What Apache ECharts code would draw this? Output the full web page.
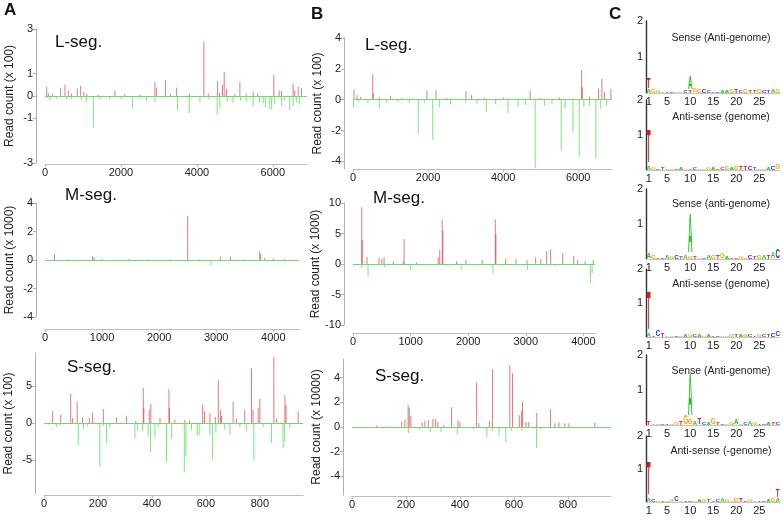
<!DOCTYPE html>
<html><head><meta charset="utf-8">
<script src="https://cdn.jsdelivr.net/npm/echarts@6/dist/echarts.min.js"></script>
<style>html,body{margin:0;padding:0;background:#fff}#c{width:783px;height:521px}</style>
</head><body><div id="c"></div>
<script>
// ---------- DATA ----------
// Panel A  L-segment (read count x 100)
const aL_sense = [[44,0.43],[88,0.12],[200,0.08],[412,0.37],[526,0.52],[614,0.25],[700,0.1],[851,0.33],[939,0.46],[1026,0.18],[1100,0.1],[1400,0.06],[1842,0.25],[2100,0.08],[2500,0.06],[2895,0.63],[2939,0.37],[3175,0.7],[3300,0.1],[3465,0.37],[3800,0.1],[4184,2.42],[4300,0.1],[4544,0.66],[4600,0.15],[4675,0.52],[4719,1.07],[4781,0.33],[5000,0.1],[5132,0.63],[5300,0.1],[5482,0.18],[5600,0.12],[6026,0.93],[6167,0.25],[6228,0.22],[6535,0.55],[6579,0.25],[6667,0.43],[6755,0.35]];
const aL_anti = [[60,-0.1],[132,-0.2],[300,-0.12],[570,-0.15],[700,-0.15],[960,-0.15],[1090,-0.27],[1272,-1.42],[1450,-0.15],[1700,-0.12],[2000,-0.15],[2307,-0.57],[2500,-0.12],[2675,-0.2],[2895,-0.27],[3100,-0.1],[3491,-0.64],[3798,-0.76],[4080,-0.27],[4300,-0.15],[4535,-0.84],[4605,-0.5],[4800,-0.25],[4950,-0.3],[5150,-0.2],[5300,-0.25],[5482,-0.46],[5650,-0.3],[5746,-0.34],[5800,-0.5],[5921,-0.57],[5970,-0.6],[6050,-0.35],[6228,-0.42],[6300,-0.2],[6447,-0.64],[6535,-0.46],[6630,-0.3],[6700,-0.38]];
// Panel A  M-segment (x 1000)
const aM_sense = [[167,0.42],[400,0.05],[833,0.26],[861,0.19],[1000,0.07],[1472,0.07],[1800,0.04],[2200,0.05],[2500,3.1],[2700,0.05],[3072,0.23],[3250,0.23],[3500,0.06],[3761,0.58],[3780,0.42],[3850,0.14],[4000,0.1],[4200,0.08]];
const aM_anti = [[300,-0.06],[900,-0.08],[1500,-0.05],[2200,-0.06],[2905,-0.4],[3300,-0.08],[3900,-0.1],[4300,-0.06]];
// Panel A  S-segment (x 100)
const aS_sense = [[32,1.6],[62,1.1],[99,4.0],[106,0.7],[123,2.9],[143,0.8],[168,0.7],[180,1.45],[220,1.9],[269,0.8],[306,1.0],[340,0.3],[368,4.8],[370,2.0],[390,1.8],[396,2.6],[430,0.7],[463,4.6],[465,2.0],[485,0.5],[522,0.45],[540,0.4],[588,2.5],[595,1.6],[615,1.35],[636,0.8],[646,5.8],[654,1.8],[658,1.0],[701,2.9],[713,0.6],[744,1.8],[769,7.4],[775,1.8],[794,2.05],[800,3.3],[852,9.0],[862,0.6],[893,3.8],[897,2.5],[942,1.6]];
const aS_anti = [[16,-0.2],[47,-0.5],[59,-0.35],[127,-2.95],[146,-0.8],[160,-0.5],[207,-5.9],[220,-0.4],[232,-2.7],[244,-0.7],[337,-2.05],[346,-1.0],[365,-1.1],[386,-1.7],[395,-3.9],[411,-1.95],[423,-0.7],[454,-5.2],[473,-2.1],[520,-6.7],[526,-4.45],[547,-0.9],[568,-1.8],[575,-1.6],[615,-1.6],[625,-4.9],[637,-1.3],[670,-0.9],[689,-1.6],[726,-0.55],[750,-1.1],[778,-5.1],[812,-0.55],[843,-2.7],[886,-3.4],[892,-2.5],[911,-0.7]];
// Panel B  L-segment (x 100)
const bL_sense = [[27,0.65],[107,0.3],[200,0.15],[525,1.65],[540,0.4],[700,0.15],[1000,0.25],[1300,0.1],[1970,0.6],[2210,0.63],[2500,0.1],[3010,0.55],[3160,0.3],[3500,0.1],[4000,0.15],[4720,0.58],[5000,0.1],[5500,0.12],[6090,1.9],[6110,0.8],[6300,0.2],[6540,0.7],[6630,1.35],[6700,0.5],[6870,0.7]];
const bL_anti = [[10,-0.5],[150,-0.15],[400,-0.2],[700,-0.57],[900,-0.2],[1200,-0.15],[1500,-0.2],[1740,-2.2],[1900,-0.2],[2124,-2.6],[2300,-0.5],[2600,-0.3],[3000,-0.2],[3300,-0.25],[3550,-0.8],[3800,-0.3],[4130,-0.9],[4400,-0.5],[4600,-0.35],[4853,-4.45],[5100,-0.4],[5300,-0.3],[5547,-3.3],[5650,-0.6],[5858,-2.1],[6027,-3.7],[6150,-0.5],[6300,-0.4],[6471,-3.8],[6600,-0.6],[6750,-0.4]];
// Panel B  M-segment (x 1000)
const bM_sense = [[151,9.3],[160,3.9],[243,1.15],[452,0.95],[500,0.8],[539,1.1],[700,0.4],[870,0.4],[887,4.1],[1100,0.3],[1478,1.1],[1505,2.3],[1548,7.3],[1560,5.5],[1800,0.45],[1960,0.65],[2241,0.7],[2470,7.3],[2480,4.9],[2650,0.8],[2830,0.8],[3020,0.6],[3170,1.1],[3260,0.8],[3360,2.1],[3430,2.4],[3640,1.8],[3830,1.3],[3900,0.7],[4030,0.5],[4170,0.6]];
const bM_anti = [[151,-0.6],[261,-2.1],[550,-0.5],[1000,-0.9],[1200,-0.3],[1650,-0.4],[1878,-0.9],[2430,-1.6],[2600,-0.3],[3030,-1.0],[3500,-0.3],[4120,-3.1],[4150,-1.5]];
// Panel B  S-segment (x 10000)
const bS_sense = [[91,0.1],[130,0.05],[184,0.45],[196,0.6],[208,1.8],[212,1.55],[218,0.9],[260,0.35],[270,0.5],[283,0.55],[300,0.65],[310,0.65],[318,0.4],[340,0.15],[369,1.6],[393,0.55],[400,0.4],[462,3.6],[470,0.3],[510,0.5],[521,4.7],[585,5.0],[595,4.35],[620,0.95],[628,1.3],[632,2.05],[645,0.4],[655,0.4],[685,1.15],[736,1.45],[752,0.3],[767,0.4],[789,0.3],[804,0.3],[900,0.35]];
const bS_anti = [[150,-0.1],[210,-0.5],[250,-0.2],[290,-0.4],[330,-0.4],[390,-0.6],[450,-0.2],[500,-0.85],[520,-0.3],[545,-0.7],[570,-1.2],[590,-0.3],[630,-0.3],[684,-1.65],[700,-0.2]];

// tick labels
const aL_xTicks = [0,2000,4000,6000], aL_yTicks = [-3,-1,0,1,3];
const aM_xTicks = [0,1000,2000,3000,4000], aM_yTicks = [-4,-2,0,2,4];
const aS_xTicks = [0,200,400,600,800], aS_yTicks = [-5,0,5];
const bL_xTicks = [0,2000,4000,6000], bL_yTicks = [-4,-2,0,2,4];
const bM_xTicks = [0,1000,2000,3000,4000], bM_yTicks = [-10,-5,0,5,10];
const bS_xTicks = [0,200,400,600,800], bS_yTicks = [-4,-2,0,2,4];
const logo_xTicks = [1,5,10,15,20,25], logo_yTicks = [1,2];

// Panel C sequence logos (bits). Base letters per position + peak letters stacked on top.
const logoTitles = ['Sense (Anti-genome)','Anti-sense (genome)','Sense (anti-genome)','Anti-sense (genome)','Sense (Anti-genome)','Anti-sense (-genome)'];
const logo1Seq = "AGGATCAGCTGGCCTCAAGTCGTTGCTAG";
const logo1H = [0.1,0.1,0.08,0.05,0.05,0.05,0.04,0.05,0.06,0.08,0.12,0.1,0.1,0.08,0.05,0.04,0.06,0.08,0.1,0.1,0.08,0.1,0.08,0.08,0.1,0.08,0.06,0.1,0.1];
const logo1Peaks = [[1,'T',0.3],[10,'A',0.36]];
const logo2Seq = "AGCTAGCAGTCAGGATCGAGTTCTAGACG";
const logo2H = [0.12,0.06,0.05,0.06,0.05,0.05,0.04,0.06,0.05,0.05,0.06,0.05,0.04,0.08,0.06,0.05,0.08,0.1,0.08,0.1,0.12,0.1,0.1,0.08,0.05,0.04,0.06,0.1,0.14];
const logo2Peaks = [[1,'T',0.95]];
const logo3Seq = "AGTCAGCTAGTGCAGTGATCGACTGATAC";
const logo3H = [0.15,0.1,0.04,0.05,0.1,0.08,0.1,0.08,0.1,0.06,0.08,0.05,0.04,0.1,0.12,0.1,0.15,0.06,0.05,0.04,0.06,0.05,0.1,0.08,0.1,0.12,0.12,0.18,0.25];
const logo3Peaks = [[10,'A',1.15]];
const logo4Seq = "ATCTGACGAGCAGATCAAGTAGCTGCTCC";
const logo4H = [0.1,0.05,0.2,0.1,0.05,0.04,0.04,0.05,0.06,0.08,0.08,0.06,0.04,0.08,0.05,0.05,0.04,0.05,0.06,0.08,0.08,0.06,0.06,0.05,0.06,0.06,0.08,0.12,0.15];
const logo4Peaks = [[1,'T',1.15]];
const logo5Seq = "TGACTAGTGGATCAGTCAGAGCAGTCATC";
const logo5H = [0.1,0.05,0.04,0.05,0.04,0.05,0.06,0.1,0.25,0.15,0.12,0.2,0.08,0.06,0.2,0.08,0.05,0.04,0.06,0.15,0.05,0.06,0.12,0.06,0.05,0.04,0.06,0.08,0.06];
const logo5Peaks = [[10,'A',1.2]];
const logo6Seq = "ACGTAGCATCGAGTTCAGAGTCGATCAGA";
const logo6H = [0.12,0.06,0.05,0.04,0.05,0.06,0.15,0.04,0.05,0.05,0.05,0.06,0.08,0.06,0.05,0.06,0.1,0.08,0.05,0.12,0.1,0.05,0.06,0.04,0.05,0.05,0.06,0.1,0.12];
const logo6Peaks = [[1,'T',1.0],[29,'T',0.22]];

// ---------- LAYOUT / STYLE ----------
const FONT = '"Liberation Sans", Arial, Helvetica, sans-serif';
const RED = 'rgba(205,35,35,0.6)';
const GREEN = 'rgba(40,215,40,0.62)';
const LETTER_COL = {A:'#21c421', C:'#2a2ad0', G:'#f2a800', T:'#d81c1c'};
const plain = v => String(v);

const grids = [], xAxes = [], yAxes = [], series = [], graphics = [];

function barPanel(box, xMax, xTicks, xOff, yMin, yMax, yTicks, yName, sense, anti) {
  const i = grids.length;
  grids.push({left: box[0], top: box[1], width: box[2], height: box[3]});
  xAxes.push({gridIndex: i, type: 'value', min: 0, max: xMax, position: 'bottom', offset: xOff,
    axisLine: {show: true, onZero: false, lineStyle: {color: '#bdbdbd', width: 1}},
    axisTick: {show: true, length: 3, customValues: xTicks, lineStyle: {color: '#bdbdbd'}},
    axisLabel: {customValues: xTicks, formatter: plain, margin: 3, fontSize: 11, fontFamily: FONT, color: '#222'},
    splitLine: {show: false}});
  yAxes.push({gridIndex: i, type: 'value', min: yMin, max: yMax, position: 'left', offset: 9,
    name: yName, nameLocation: 'middle', nameGap: 20, nameRotate: 90,
    nameTextStyle: {fontSize: 12, fontFamily: FONT, color: '#222'},
    axisLine: {show: true, onZero: false, lineStyle: {color: '#b0b0b0', width: 1}},
    axisTick: {show: true, length: 3, customValues: yTicks, lineStyle: {color: '#b0b0b0'}},
    axisLabel: {customValues: yTicks, formatter: plain, margin: 3, fontSize: 11, fontFamily: FONT, color: '#222'},
    splitLine: {show: false}});
  series.push({type: 'bar', xAxisIndex: i, yAxisIndex: i, data: anti, barWidth: 1, barGap: '-100%',
    itemStyle: {color: GREEN}, silent: true,
    markLine: {silent: true, symbol: ['none','none'], label: {show: false},
      lineStyle: {color: '#6fd86f', type: 'solid', width: 1}, data: [{yAxis: 0}]}});
  series.push({type: 'bar', xAxisIndex: i, yAxisIndex: i, data: sense, barWidth: 1, barGap: '-100%',
    itemStyle: {color: RED}, silent: true});
}

barPanel([45, 29, 262, 134], 6900, aL_xTicks, 1, -3, 3, aL_yTicks, 'Read count (x 100)', aL_sense, aL_anti);
barPanel([45, 203, 254, 114], 4450, aM_xTicks, 12, -4, 4, aM_yTicks, 'Read count (x 1000)', aM_sense, aM_anti);
barPanel([44, 353, 259, 141], 960, aS_xTicks, 1, -9.6, 9.5, aS_yTicks, 'Read count (x 100)', aS_sense, aS_anti);
barPanel([353, 38, 259, 131], 6900, bL_xTicks, 0, -4.5, 4, bL_yTicks, 'Read count (x 100)', bL_sense, bL_anti);
barPanel([353, 203, 242, 122], 4200, bM_xTicks, 8, -10, 10, bM_yTicks, 'Read count (x 1000)', bM_sense, bM_anti);
barPanel([352, 359, 259, 136], 960, bS_xTicks, 1, -5.5, 5.5, bS_yTicks, 'Read count (x 10000)', bS_sense, bS_anti);

// sequence logos
const logoSeqs = [logo1Seq, logo2Seq, logo3Seq, logo4Seq, logo5Seq, logo6Seq];
const logoHs = [logo1H, logo2H, logo3H, logo4H, logo5H, logo6H];
const logoPeaks = [logo1Peaks, logo2Peaks, logo3Peaks, logo4Peaks, logo5Peaks, logo6Peaks];
const logoTops = [21, 100, 189, 269, 355, 436];
const logoHeights = [72, 70, 70, 68, 70, 66];

function logoPanel(k) {
  const i = grids.length;
  grids.push({left: 646, top: logoTops[k], width: 134, height: logoHeights[k]});
  xAxes.push({gridIndex: i, type: 'value', min: 0.4, max: 29.5, position: 'bottom',
    axisLine: {show: true, onZero: false, lineStyle: {color: '#c4c4c4', width: 1}},
    axisTick: {show: false},
    axisLabel: {customValues: logo_xTicks, formatter: plain, margin: 3, fontSize: 11, fontFamily: FONT, color: '#222'},
    splitLine: {show: false}});
  yAxes.push({gridIndex: i, type: 'value', min: 0, max: 2, position: 'left',
    axisLine: {show: true, onZero: false, lineStyle: {color: '#333', width: 1.4}},
    axisTick: {show: false},
    axisLabel: {customValues: logo_yTicks, formatter: plain, margin: 3, fontSize: 11, fontFamily: FONT, color: '#222'},
    splitLine: {show: false}});
  // build stacked letter boxes from the data
  const items = [];
  const top = {};
  const seq = logoSeqs[k], hs = logoHs[k];
  for (let p = 1; p <= seq.length; p++) {
    items.push({pos: p, L: seq[p - 1], y0: 0, y1: hs[p - 1]});
    top[p] = hs[p - 1];
  }
  logoPeaks[k].forEach(([p, L, h]) => {
    items.push({pos: p, L: L, y0: top[p], y1: top[p] + h});
    top[p] += h;
  });
  const F = 20;
  series.push({type: 'custom', xAxisIndex: i, yAxisIndex: i, silent: true,
    data: items.map(d => [d.pos, d.y0, d.y1]),
    renderItem: function (params, api) {
      const d = items[params.dataIndex];
      const pA = api.coord([d.pos - 0.46, d.y1]);
      const pB = api.coord([d.pos + 0.46, d.y0]);
      const w = pB[0] - pA[0], h = pB[1] - pA[1];
      if (h < 0.4) return null;
      return {type: 'text', x: (pA[0] + pB[0]) / 2, y: (pA[1] + pB[1]) / 2,
        scaleX: w / (0.68 * F), scaleY: h / (0.72 * F),
        style: {text: d.L, fill: LETTER_COL[d.L], fontSize: F, fontWeight: 'bold', fontFamily: FONT,
          align: 'center', verticalAlign: 'middle'}};
    }});
  graphics.push({type: 'text', x: 721, y: [38, 117, 204, 284, 371, 451][k],
    style: {text: logoTitles[k], fontSize: 10.5, fontFamily: FONT, fill: '#222', align: 'center', verticalAlign: 'middle'}});
}
for (let k = 0; k < 6; k++) logoPanel(k);

// panel letters and segment titles
[['A', 4, 10], ['B', 311, 14], ['C', 609, 14]].forEach(([t, x, y]) =>
  graphics.push({type: 'text', x: x, y: y, style: {text: t, fontSize: 17, fontWeight: 'bold', fontFamily: FONT, fill: '#111', verticalAlign: 'middle'}}));
[['L-seg.', 55, 42], ['M-seg.', 65, 195], ['S-seg.', 67, 367], ['L-seg.', 365, 45], ['M-seg.', 373, 198], ['S-seg.', 375, 376]].forEach(([t, x, y]) =>
  graphics.push({type: 'text', x: x, y: y, style: {text: t, fontSize: 17, fontFamily: FONT, fill: '#111', verticalAlign: 'middle'}}));

const chart = echarts.init(document.getElementById('c'), null, {renderer: 'canvas'});
chart.setOption({
  animation: false,
  backgroundColor: '#fff',
  grid: grids, xAxis: xAxes, yAxis: yAxes, series: series, graphic: graphics
});
</script></body></html>
